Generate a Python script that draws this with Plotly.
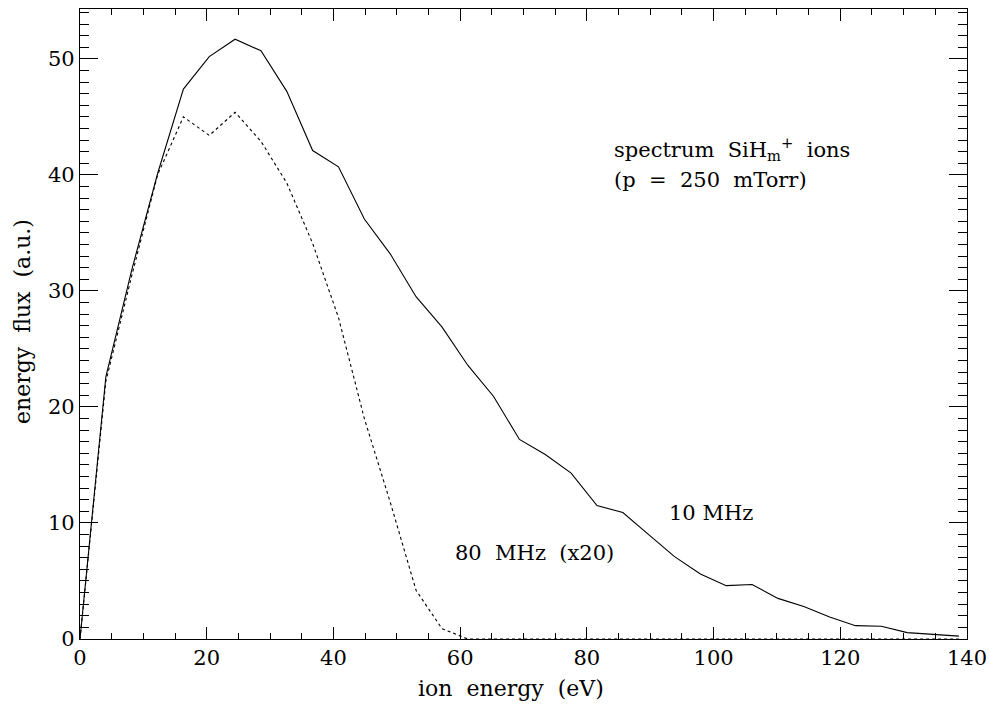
import plotly.graph_objects as go

# ion energy grid (eV)
energy = [round(i * 4.08, 2) for i in range(35)]

# 10 MHz energy flux (a.u.)
flux_10mhz = [0.0, 22.6, 31.8, 40.1, 47.4, 50.2, 51.7, 50.7, 47.2, 42.1,
              40.7, 36.2, 33.2, 29.5, 26.9, 23.6, 20.9, 17.2, 15.9, 14.3,
              11.5, 10.9, 9.0, 7.1, 5.6, 4.6, 4.7, 3.5, 2.8, 1.9,
              1.15, 1.1, 0.55, 0.4, 0.25]

# 80 MHz energy flux (x20) (a.u.)
flux_80mhz = [0.0, 22.2, 31.3, 40.0, 45.0, 43.4, 45.4, 42.9, 39.3, 34.1,
              27.7, 19.0, 11.8, 4.2, 0.9, 0.0, 0.0, 0.0, 0.0, 0.0,
              0.0, 0.0, 0.0, 0.0, 0.0, 0.0, 0.0, 0.0, 0.0, 0.0,
              0.0, 0.0, 0.0, 0.0, 0.0]

x_title = "ion energy (eV)"
y_title = "energy flux (a.u.)"

FONT = "DejaVu Serif"
NB = "\u00a0"


def wide(s):
    # Hershey-like wide word spacing
    return s.replace(" ", " " + NB)


fig = go.Figure()
fig.add_trace(go.Scatter(x=energy, y=flux_10mhz, mode="lines",
                         line=dict(color="black", width=1.1), showlegend=False))
fig.add_trace(go.Scatter(x=energy, y=flux_80mhz, mode="lines",
                         line=dict(color="black", width=1.1, dash="dot"), showlegend=False))

ann_font = dict(family=FONT, size=21, color="black")
fig.add_annotation(x=84.0, y=42.2, text=wide("spectrum SiH<sub>m</sub><sup>+</sup> ions"),
                   showarrow=False, xanchor="left", yanchor="middle", font=ann_font)
fig.add_annotation(x=84.0, y=39.6, text=wide("(p = 250 mTorr)"),
                   showarrow=False, xanchor="left", yanchor="middle", font=ann_font)
fig.add_annotation(x=92.7, y=10.9, text="10 MHz",
                   showarrow=False, xanchor="left", yanchor="middle", font=ann_font)
fig.add_annotation(x=58.9, y=7.4, text=wide("80 MHz (x20)"),
                   showarrow=False, xanchor="left", yanchor="middle", font=ann_font)

# axis titles (placed like the original's)
title_font = dict(family=FONT, size=22, color="black")
fig.add_annotation(xref="paper", yref="paper", x=(511 - 80) / 887, y=-(688 - 639) / 630,
                   text=wide(x_title), showarrow=False, xanchor="center", yanchor="middle",
                   font=title_font)
fig.add_annotation(xref="paper", yref="paper", x=-(80 - 22) / 887, y=(639 - 322) / 630,
                   text=wide(y_title), showarrow=False, xanchor="center", yanchor="middle",
                   textangle=-90, font=title_font)

fig.update_layout(
    width=989, height=706,
    margin=dict(l=80, r=22, t=9, b=67),
    paper_bgcolor="white", plot_bgcolor="white",
    font=dict(family=FONT, size=21, color="black"),
    xaxis=dict(range=[0, 140], dtick=20, tick0=0, ticks="inside", ticklen=12,
               tickcolor="black", showline=True, linecolor="black", linewidth=1.2,
               mirror="ticks", showgrid=False, zeroline=False, automargin=False,
               minor=dict(dtick=5, ticks="inside", ticklen=6, tickcolor="black", showgrid=False),
               tickfont=dict(size=21)),
    yaxis=dict(range=[0, 54.3], dtick=10, tick0=0, ticks="inside", ticklen=18,
               tickcolor="black", showline=True, linecolor="black", linewidth=1.2,
               mirror="ticks", showgrid=False, zeroline=False, automargin=False,
               minor=dict(dtick=1, ticks="inside", ticklen=9, tickcolor="black", showgrid=False),
               tickfont=dict(size=21)),
)

fig.write_html("out.html")
